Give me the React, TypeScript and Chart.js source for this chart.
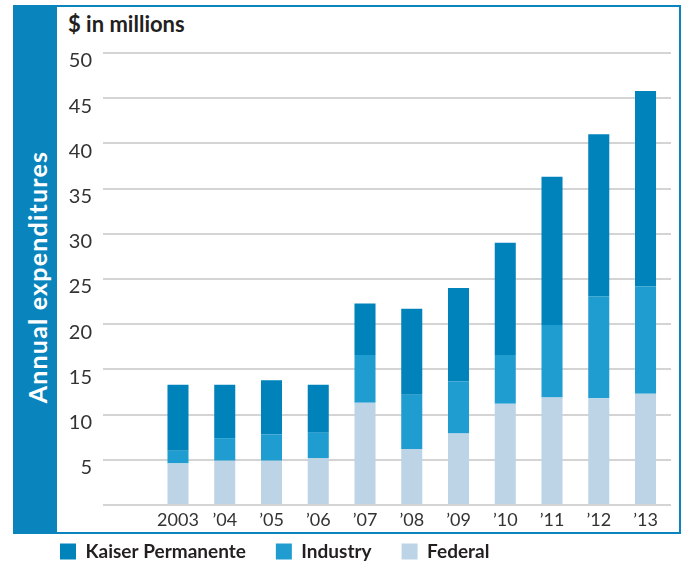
import React, { useEffect, useRef } from "react";
import { Chart, registerables } from "chart.js";

Chart.register(...registerables);

const years = ["2003", "\u201904", "\u201905", "\u201906", "\u201907", "\u201908", "\u201909", "\u201910", "\u201911", "\u201912", "\u201913"];
const federal = [4.6, 4.9, 4.9, 5.2, 11.3, 6.2, 7.9, 11.2, 11.9, 11.8, 12.3];
const industry = [1.4, 2.5, 2.9, 2.8, 5.3, 6.0, 5.8, 5.4, 8.0, 11.3, 11.9];
const kaiser = [7.3, 5.9, 6.0, 5.3, 5.7, 9.5, 10.3, 12.4, 16.4, 17.9, 21.6];
const seriesNames = ["Federal", "Industry", "Kaiser Permanente"];
const yMax = 50;
const yStep = 5;

const BLUE_FRAME = "#0a84bd";
const COLORS = ["#bdd4e6", "#1f9dd0", "#0082bb"];

export default function App() {
  const ref = useRef<HTMLCanvasElement | null>(null);

  useEffect(() => {
    if (!ref.current) return;
    Chart.defaults.font.family = "Lato, 'Noto Sans', sans-serif";
    const toPts = (arr: number[]) => arr.map((v, i) => ({ x: i + 1, y: v }));
    const chart = new Chart(ref.current, {
      type: "bar",
      data: {
        datasets: [federal, industry, kaiser].map((arr, k) => ({
          label: seriesNames[k],
          data: toPts(arr),
          backgroundColor: COLORS[k],
          borderWidth: 0,
          barPercentage: 0.45,
          categoryPercentage: 1,
        })),
      },
      options: {
        responsive: false,
        animation: false,
        devicePixelRatio: 1,
        layout: { padding: { left: 30, right: 14, top: 53, bottom: 0 } },
        plugins: {
          tooltip: { enabled: false },
          title: { display: false },
          legend: {
            display: true,
            position: "bottom",
            align: "start",
            reverse: true,
            labels: {
              boxWidth: 16,
              boxHeight: 16,
              padding: 30,
              color: "#231f20",
              font: { size: 19, weight: "bold", family: "Lato" },
            },
          },
        },
        scales: {
          x: {
            type: "linear",
            stacked: true,
            offset: false,
            min: -0.604,
            max: 11.545,
            grid: { display: false, drawTicks: false, offset: false },
            border: { display: false },
            ticks: {
              stepSize: 1,
              includeBounds: false,
              autoSkip: false,
              maxRotation: 0,
              minRotation: 0,
              mirror: true,
              padding: -26,
              color: "#333333",
              font: { size: 18, family: "Lato" },
              callback: (v: any) => {
                const n = Number(v);
                return Number.isInteger(n) && n >= 1 && n <= years.length ? years[n - 1] : "";
              },
            },
            afterFit: (s: any) => {
              s.height = 7;
            },
          },
          y: {
            stacked: true,
            min: 0,
            max: yMax,
            grid: { color: "#d4d4d4", lineWidth: 2, drawTicks: false },
            border: { display: false },
            ticks: {
              stepSize: yStep,
              padding: 11,
              labelOffset: 8,
              color: "#333333",
              font: { size: 20, family: "Lato" },
              callback: (v: any) => (Number(v) === 0 ? "" : String(v)),
            },
            afterFit: (s: any) => {
              s.width = 73;
            },
          },
        },
      },
    });
    return () => chart.destroy();
  }, []);

  return (
    <div
      style={{
        position: "absolute",
        left: 0,
        top: 0,
        width: 685,
        height: 563,
        overflow: "hidden",
        background: "#ffffff",
      }}
    >
      <div style={{ position: "absolute", left: 13, top: 5, width: 44, height: 529, background: BLUE_FRAME }} />
      <div style={{ position: "absolute", left: 13, top: 5, width: 668, height: 2, background: BLUE_FRAME }} />
      <div style={{ position: "absolute", left: 679, top: 5, width: 2, height: 529, background: BLUE_FRAME }} />
      <div style={{ position: "absolute", left: 13, top: 532, width: 668, height: 2, background: BLUE_FRAME }} />
      <div
        style={{
          position: "absolute",
          left: 37 - 160,
          top: 277 - 16,
          width: 320,
          height: 32,
          lineHeight: "32px",
          textAlign: "center",
          color: "#ffffff",
          fontFamily: "Lato, sans-serif",
          fontWeight: 700,
          fontSize: 25,
          letterSpacing: "1.2px",
          transform: "rotate(-90deg)",
          whiteSpace: "nowrap",
        }}
      >
        Annual expenditures
      </div>
      <div
        style={{
          position: "absolute",
          left: 68,
          top: 11,
          color: "#231f20",
          fontFamily: "Lato, sans-serif",
          fontWeight: 700,
          fontSize: 22,
          lineHeight: "26px",
          whiteSpace: "nowrap",
        }}
      >
        $ in millions
      </div>
      <canvas
        ref={ref}
        width={685}
        height={571}
        style={{ position: "absolute", left: 0, top: 0, width: 685, height: 571 }}
      />
    </div>
  );
}
